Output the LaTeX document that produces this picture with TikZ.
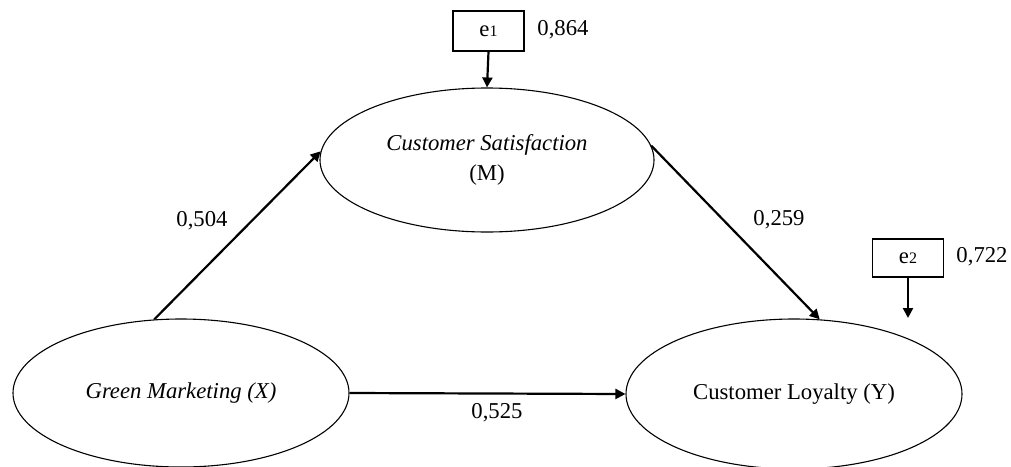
\documentclass[tikz,border=0pt]{standalone}
\usepackage{fontspec}
\setmainfont{Liberation Serif}
\usetikzlibrary{shapes.geometric,arrows.meta}
\begin{document}
\begin{tikzpicture}[x=0.5pt,y=-0.5pt,
  every node/.style={font=\fontsize{11.35}{13.6}\selectfont},
  latent/.style={draw, ellipse, line width=0.55pt, inner sep=0pt},
  errbox/.style={draw, rectangle, line width=0.6pt, inner sep=0pt, minimum width=35.5pt},
  path/.style={line width=1.1pt, -{Triangle[length=5pt,width=5pt]}},
  coef/.style={inner sep=0pt}]
\useasboundingbox (0,0) rectangle (1011,466);
\node[latent, minimum width=167pt, minimum height=72pt] (M) at (487,160)
  {\begin{tabular}{c}\textit{Customer Satisfaction}\\[1pt](M)\end{tabular}};
\node[latent, minimum width=168pt, minimum height=74pt] (X) at (181,393) {\textit{Green Marketing (X)}};
\node[latent, minimum width=168pt, minimum height=75pt] (Y) at (794,394) {Customer Loyalty (Y)};
\node[errbox, minimum height=20pt] (e1) at (488.5,31) {e{\fontsize{8}{8}\selectfont 1}};
\node[errbox, minimum height=19pt] (e2) at (908,258) {e{\fontsize{8}{8}\selectfont 2}};
\coordinate (e2end) at (908,318);
\node[coef] (l864) at (563,30) {0,864};
\node[coef] (l722) at (982,257) {0,722};
\node[coef] (l504) at (202,221) {0,504};
\node[coef] (l259) at (779,220) {0,259};
\node[coef] (l525) at (497,413) {0,525};
\draw[path] (e1.south) -- (M.north);
\draw[path] (e2.south) -- (e2end);
\draw[path] (X.110) -- (M.177);
\draw[path] (M.5) -- (Y.71);
\draw[path] (X.east) -- (Y.west);
\end{tikzpicture}
\end{document}
